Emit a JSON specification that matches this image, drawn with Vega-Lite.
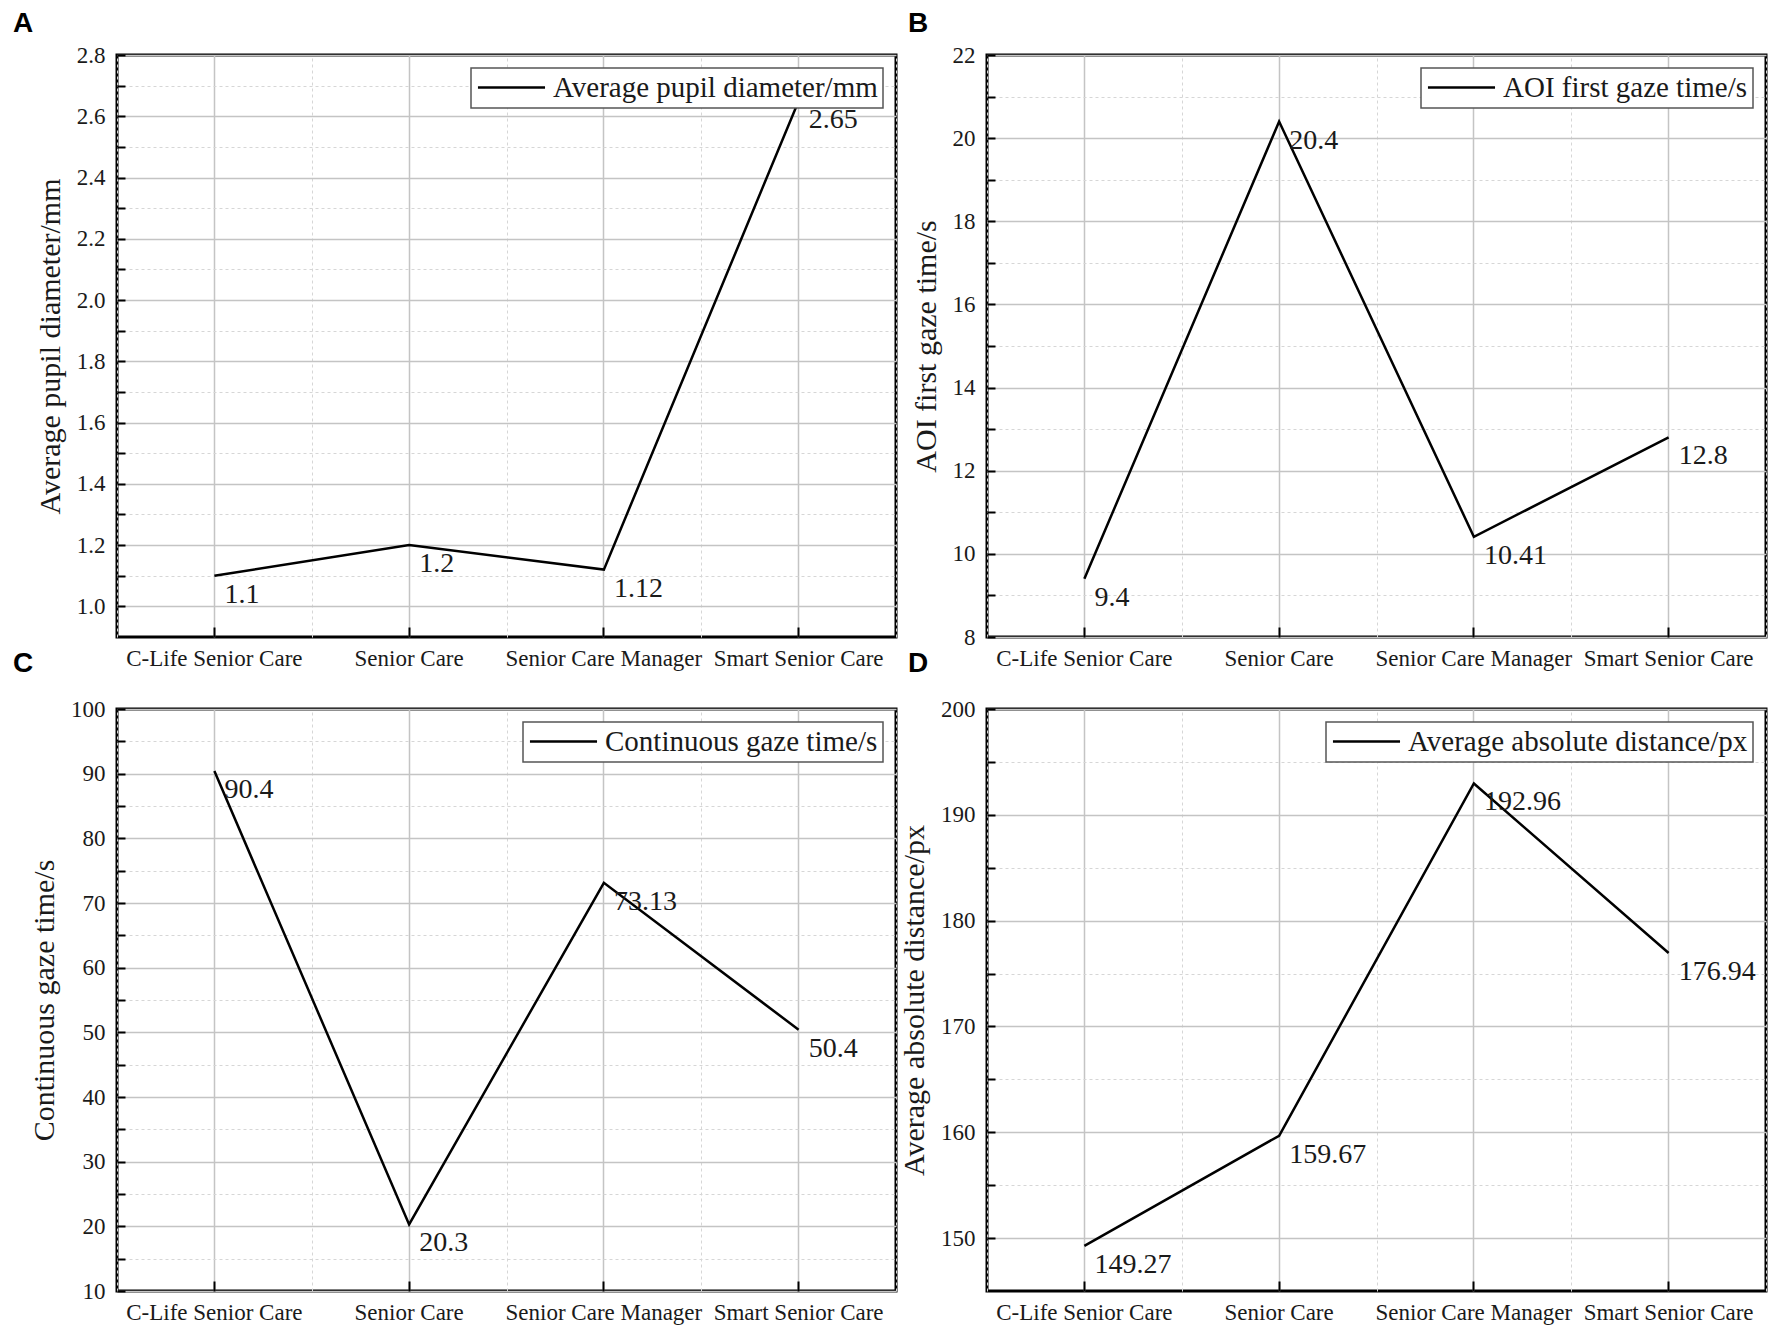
{
  "$schema": "https://vega.github.io/schema/vega-lite/v6.json",
  "padding": {"left": 11, "top": 8, "right": 4, "bottom": 4},
  "background": "white",
  "bounds": "flush",
  "columns": 2,
  "spacing": {"row": 72, "column": 91},
  "data": {"values": [
    {"measure": "Average pupil diameter/mm", "category": "C-Life Senior Care", "value": 1.1},
    {"measure": "Average pupil diameter/mm", "category": "Senior Care", "value": 1.2},
    {"measure": "Average pupil diameter/mm", "category": "Senior Care Manager", "value": 1.12},
    {"measure": "Average pupil diameter/mm", "category": "Smart Senior Care", "value": 2.65},
    {"measure": "AOI first gaze time/s", "category": "C-Life Senior Care", "value": 9.4},
    {"measure": "AOI first gaze time/s", "category": "Senior Care", "value": 20.4},
    {"measure": "AOI first gaze time/s", "category": "Senior Care Manager", "value": 10.41},
    {"measure": "AOI first gaze time/s", "category": "Smart Senior Care", "value": 12.8},
    {"measure": "Continuous gaze time/s", "category": "C-Life Senior Care", "value": 90.4},
    {"measure": "Continuous gaze time/s", "category": "Senior Care", "value": 20.3},
    {"measure": "Continuous gaze time/s", "category": "Senior Care Manager", "value": 73.13},
    {"measure": "Continuous gaze time/s", "category": "Smart Senior Care", "value": 50.4},
    {"measure": "Average absolute distance/px", "category": "C-Life Senior Care", "value": 149.27},
    {"measure": "Average absolute distance/px", "category": "Senior Care", "value": 159.67},
    {"measure": "Average absolute distance/px", "category": "Senior Care Manager", "value": 192.96},
    {"measure": "Average absolute distance/px", "category": "Smart Senior Care", "value": 176.94}
  ]},
  "resolve": {"scale": {"color": "independent"}, "legend": {"color": "independent"}},
  "config": {
    "font": "Liberation Serif",
    "view": {"stroke": "black", "strokeWidth": 3},
    "axis": {
      "domain": false,
      "labelFont": "Liberation Serif",
      "labelFontSize": 23,
      "labelColor": "#1a1a1a",
      "titleFont": "Liberation Serif",
      "titleFontSize": 30,
      "titleFontWeight": "normal",
      "titleColor": "#1a1a1a",
      "tickColor": "black",
      "tickWidth": 2,
      "gridColor": "#c4c4c4",
      "gridWidth": 1.5,
      "labelOverlap": false,
      "labelFlush": false,
      "labelLimit": 0
    },
    "legend": {
      "orient": "top-right",
      "offset": 13,
      "symbolType": "M-3,0H3",
      "symbolSize": 500,
      "symbolOffset": 21,
      "symbolStrokeWidth": 2.5,
      "labelFont": "Liberation Serif",
      "labelFontSize": 29,
      "labelColor": "#1a1a1a",
      "labelLimit": 0,
      "labelOffset": 27,
      "padding": 5,
      "strokeColor": "#555555",
      "strokeWidth": 1.5,
      "fillColor": "white"
    },
    "title": {
      "font": "Liberation Sans",
      "fontSize": 28,
      "fontWeight": "bold",
      "color": "black",
      "anchor": "start",
      "frame": "group",
      "baseline": "alphabetic"
    }
  },
  "concat": [
    {
      "width": 779, "height": 582,
      "title": {"text": "A", "dx": -104, "offset": 6},
      "transform": [{"filter": "datum.measure === 'Average pupil diameter/mm'"}],
      "encoding": {
        "x": {"field": "category", "type": "nominal", "sort": null, "bandPosition": 0.5,
          "scale": {"type": "band", "paddingInner": 0, "paddingOuter": 0},
          "axis": {"title": null, "orient": "bottom", "labelAngle": 0, "tickSize": -10, "labelPadding": 20, "grid": true}},
        "y": {"field": "value", "type": "quantitative",
          "scale": {"domain": [0.9, 2.8], "zero": false, "nice": false},
          "axis": {"title": "Average pupil diameter/mm", "titlePadding": 11,
            "values": [1.0,1.1,1.2,1.3,1.4,1.5,1.6,1.7,1.8,1.9,2.0,2.1,2.2,2.3,2.4,2.5,2.6,2.7,2.8],
            "labelExpr": "round(datum.value*10)%2==0 ? format(datum.value,'.1f') : ''",
            "tickSize": -8, "labelPadding": 20,
            "gridDash": {"condition": {"test": "round(datum.value*10)%2==1", "value": [3,3]}, "value": []},
            "gridColor": {"condition": {"test": "round(datum.value*10)%2==1", "value": "#d6d6d6"}, "value": "#c4c4c4"},
            "gridWidth": {"condition": {"test": "round(datum.value*10)%2==1", "value": 1}, "value": 1.5}}}
      },
      "layer": [
        {"mark": {"type": "line", "strokeWidth": 2.5},
         "encoding": {"color": {"field": "measure", "type": "nominal", "scale": {"range": ["black"]}, "legend": {"title": null}}}},
        {"mark": {"type": "text", "align": "left", "baseline": "top", "dx": 10, "dy": 5, "fontSize": 28, "font": "Liberation Serif", "color": "#1a1a1a"},
         "encoding": {
           "x": {"field": "category", "type": "nominal", "sort": null, "bandPosition": 0.5,
             "axis": {"orient": "top", "title": null, "labels": false, "ticks": false, "domain": false, "grid": true, "tickBand": "extent", "gridDash": [3,3], "gridColor": "#d6d6d6", "gridWidth": 1}},
           "text": {"field": "value", "type": "quantitative", "format": "~f"}}}
      ],
      "resolve": {"axis": {"x": "independent"}}
    },
    {
      "width": 779, "height": 582,
      "title": {"text": "B", "dx": -79, "offset": 6},
      "transform": [{"filter": "datum.measure === 'AOI first gaze time/s'"}],
      "encoding": {
        "x": {"field": "category", "type": "nominal", "sort": null, "bandPosition": 0.5,
          "scale": {"type": "band", "paddingInner": 0, "paddingOuter": 0},
          "axis": {"title": null, "orient": "bottom", "labelAngle": 0, "tickSize": -10, "labelPadding": 20, "grid": true}},
        "y": {"field": "value", "type": "quantitative",
          "scale": {"domain": [8, 22], "zero": false, "nice": false},
          "axis": {"title": "AOI first gaze time/s", "titlePadding": 11,
            "values": [8,9,10,11,12,13,14,15,16,17,18,19,20,21,22],
            "labelExpr": "datum.value%2==0 ? datum.label : ''",
            "tickSize": -8, "labelPadding": 20,
            "gridDash": {"condition": {"test": "datum.value%2==1", "value": [3,3]}, "value": []},
            "gridColor": {"condition": {"test": "datum.value%2==1", "value": "#d6d6d6"}, "value": "#c4c4c4"},
            "gridWidth": {"condition": {"test": "datum.value%2==1", "value": 1}, "value": 1.5}}}
      },
      "layer": [
        {"mark": {"type": "line", "strokeWidth": 2.5},
         "encoding": {"color": {"field": "measure", "type": "nominal", "scale": {"range": ["black"]}, "legend": {"title": null}}}},
        {"mark": {"type": "text", "align": "left", "baseline": "top", "dx": 10, "dy": 5, "fontSize": 28, "font": "Liberation Serif", "color": "#1a1a1a"},
         "encoding": {
           "x": {"field": "category", "type": "nominal", "sort": null, "bandPosition": 0.5,
             "axis": {"orient": "top", "title": null, "labels": false, "ticks": false, "domain": false, "grid": true, "tickBand": "extent", "gridDash": [3,3], "gridColor": "#d6d6d6", "gridWidth": 1}},
           "text": {"field": "value", "type": "quantitative", "format": "~f"}}}
      ],
      "resolve": {"axis": {"x": "independent"}}
    },
    {
      "width": 779, "height": 582,
      "title": {"text": "C", "dx": -104, "offset": 20},
      "transform": [{"filter": "datum.measure === 'Continuous gaze time/s'"}],
      "encoding": {
        "x": {"field": "category", "type": "nominal", "sort": null, "bandPosition": 0.5,
          "scale": {"type": "band", "paddingInner": 0, "paddingOuter": 0},
          "axis": {"title": null, "orient": "bottom", "labelAngle": 0, "tickSize": -10, "labelPadding": 20, "grid": true}},
        "y": {"field": "value", "type": "quantitative",
          "scale": {"domain": [10, 100], "zero": false, "nice": false},
          "axis": {"title": "Continuous gaze time/s", "titlePadding": 11,
            "values": [10,15,20,25,30,35,40,45,50,55,60,65,70,75,80,85,90,95,100],
            "labelExpr": "datum.value%10==0 ? datum.label : ''",
            "tickSize": -8, "labelPadding": 20,
            "gridDash": {"condition": {"test": "datum.value%10==5", "value": [3,3]}, "value": []},
            "gridColor": {"condition": {"test": "datum.value%10==5", "value": "#d6d6d6"}, "value": "#c4c4c4"},
            "gridWidth": {"condition": {"test": "datum.value%10==5", "value": 1}, "value": 1.5}}}
      },
      "layer": [
        {"mark": {"type": "line", "strokeWidth": 2.5},
         "encoding": {"color": {"field": "measure", "type": "nominal", "scale": {"range": ["black"]}, "legend": {"title": null}}}},
        {"mark": {"type": "text", "align": "left", "baseline": "top", "dx": 10, "dy": 5, "fontSize": 28, "font": "Liberation Serif", "color": "#1a1a1a"},
         "encoding": {
           "x": {"field": "category", "type": "nominal", "sort": null, "bandPosition": 0.5,
             "axis": {"orient": "top", "title": null, "labels": false, "ticks": false, "domain": false, "grid": true, "tickBand": "extent", "gridDash": [3,3], "gridColor": "#d6d6d6", "gridWidth": 1}},
           "text": {"field": "value", "type": "quantitative", "format": "~f"}}}
      ],
      "resolve": {"axis": {"x": "independent"}}
    },
    {
      "width": 779, "height": 582,
      "title": {"text": "D", "dx": -79, "offset": 20},
      "transform": [{"filter": "datum.measure === 'Average absolute distance/px'"}],
      "encoding": {
        "x": {"field": "category", "type": "nominal", "sort": null, "bandPosition": 0.5,
          "scale": {"type": "band", "paddingInner": 0, "paddingOuter": 0},
          "axis": {"title": null, "orient": "bottom", "labelAngle": 0, "tickSize": -10, "labelPadding": 20, "grid": true}},
        "y": {"field": "value", "type": "quantitative",
          "scale": {"domain": [145, 200], "zero": false, "nice": false},
          "axis": {"title": "Average absolute distance/px", "titlePadding": 11,
            "values": [150,155,160,165,170,175,180,185,190,195,200],
            "labelExpr": "datum.value%10==0 ? datum.label : ''",
            "tickSize": -8, "labelPadding": 20,
            "gridDash": {"condition": {"test": "datum.value%10==5", "value": [3,3]}, "value": []},
            "gridColor": {"condition": {"test": "datum.value%10==5", "value": "#d6d6d6"}, "value": "#c4c4c4"},
            "gridWidth": {"condition": {"test": "datum.value%10==5", "value": 1}, "value": 1.5}}}
      },
      "layer": [
        {"mark": {"type": "line", "strokeWidth": 2.5},
         "encoding": {"color": {"field": "measure", "type": "nominal", "scale": {"range": ["black"]}, "legend": {"title": null}}}},
        {"mark": {"type": "text", "align": "left", "baseline": "top", "dx": 10, "dy": 5, "fontSize": 28, "font": "Liberation Serif", "color": "#1a1a1a"},
         "encoding": {
           "x": {"field": "category", "type": "nominal", "sort": null, "bandPosition": 0.5,
             "axis": {"orient": "top", "title": null, "labels": false, "ticks": false, "domain": false, "grid": true, "tickBand": "extent", "gridDash": [3,3], "gridColor": "#d6d6d6", "gridWidth": 1}},
           "text": {"field": "value", "type": "quantitative", "format": "~f"}}}
      ],
      "resolve": {"axis": {"x": "independent"}}
    }
  ]
}
